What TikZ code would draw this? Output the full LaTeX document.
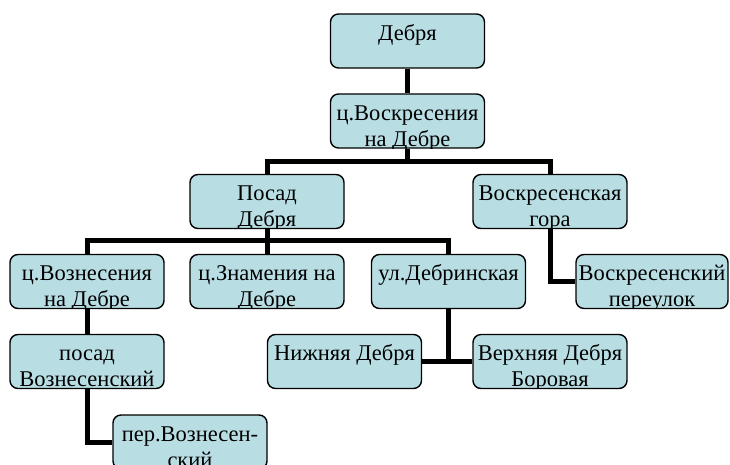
\documentclass[tikz,border=0pt]{standalone}
\usepackage{fontspec}
\setmainfont{Liberation Serif}
\usetikzlibrary{backgrounds}
\definecolor{boxfill}{RGB}{184,222,228}
\tikzset{
  bx/.style={draw=black, line width=1.4pt, rounded corners=8pt, fill=boxfill,
    minimum width=154pt, minimum height=54pt, inner sep=0pt},
  lbl/.style={font=\fontsize{22.5}{26}\selectfont, inner sep=0pt, anchor=base},
  tone/.style={path picture={
    \node[lbl] at ([yshift=-26pt]path picture bounding box.north) {#1};}},
  ttwo/.style 2 args={path picture={
    \node[lbl] at ([yshift=-26pt]path picture bounding box.north) {#1};
    \node[lbl] at ([yshift=-52pt]path picture bounding box.north) {#2};}},
  conn/.style={line width=5pt, draw=black, line join=miter}
}
\begin{document}
\begin{tikzpicture}[x=1pt,y=-1pt]
\useasboundingbox (0,0) rectangle (730,464);
% nodes
\node[bx, tone={Дебря}] (deb) at (407.5,41) {};
\node[bx, ttwo={ц.Воскресения}{на Дебре}] (vosk) at (407.5,121) {};
\node[bx, ttwo={Посад}{Дебря}] (posad) at (267,201.5) {};
\node[bx, ttwo={Воскресенская}{гора}] (gora) at (550,201.5) {};
\node[bx, ttwo={ц.Вознесения}{на Дебре}] (vozn) at (87,281.5) {};
\node[bx, ttwo={ц.Знамения на}{Дебре}] (znam) at (267,281.5) {};
\node[bx, tone={ул.Дебринская}] (ul) at (448.5,281.5) {};
\node[bx, minimum width=152pt, ttwo={Воскресенский}{переулок}] (perul) at (652,281.5) {};
\node[bx, ttwo={посад}{Вознесенский}] (posv) at (87,361.5) {};
\node[bx, tone={Нижняя Дебря}] (niz) at (344.5,361.5) {};
\node[bx, ttwo={Верхняя Дебря}{Боровая}] (verh) at (550,361.5) {};
\node[bx, ttwo={пер.Вознесен-}{ский}] (pervo) at (190,442) {};
% junctions
\coordinate (j1) at (407.5,161);
\coordinate (j2) at (267,240);
% connectors
\begin{scope}[on background layer]
\draw[conn] (deb.south) -- (vosk.north);
\draw[conn] (vosk.south) -- (j1);
\draw[conn] (posad.north) |- (j1) -| (gora.north);
\draw[conn] (posad.south) -- (znam.north);
\draw[conn] (vozn.north) |- (j2) -| (ul.north);
\draw[conn] (vozn.south) -- (posv.north);
\draw[conn] (posv.south) |- (pervo.west);
\draw[conn] (gora.south) |- (perul.west);
\draw[conn] (ul.south) -- (ul.south |- niz.east);
\draw[conn] (niz.east) -- (verh.west);
\end{scope}
\end{tikzpicture}
\end{document}
